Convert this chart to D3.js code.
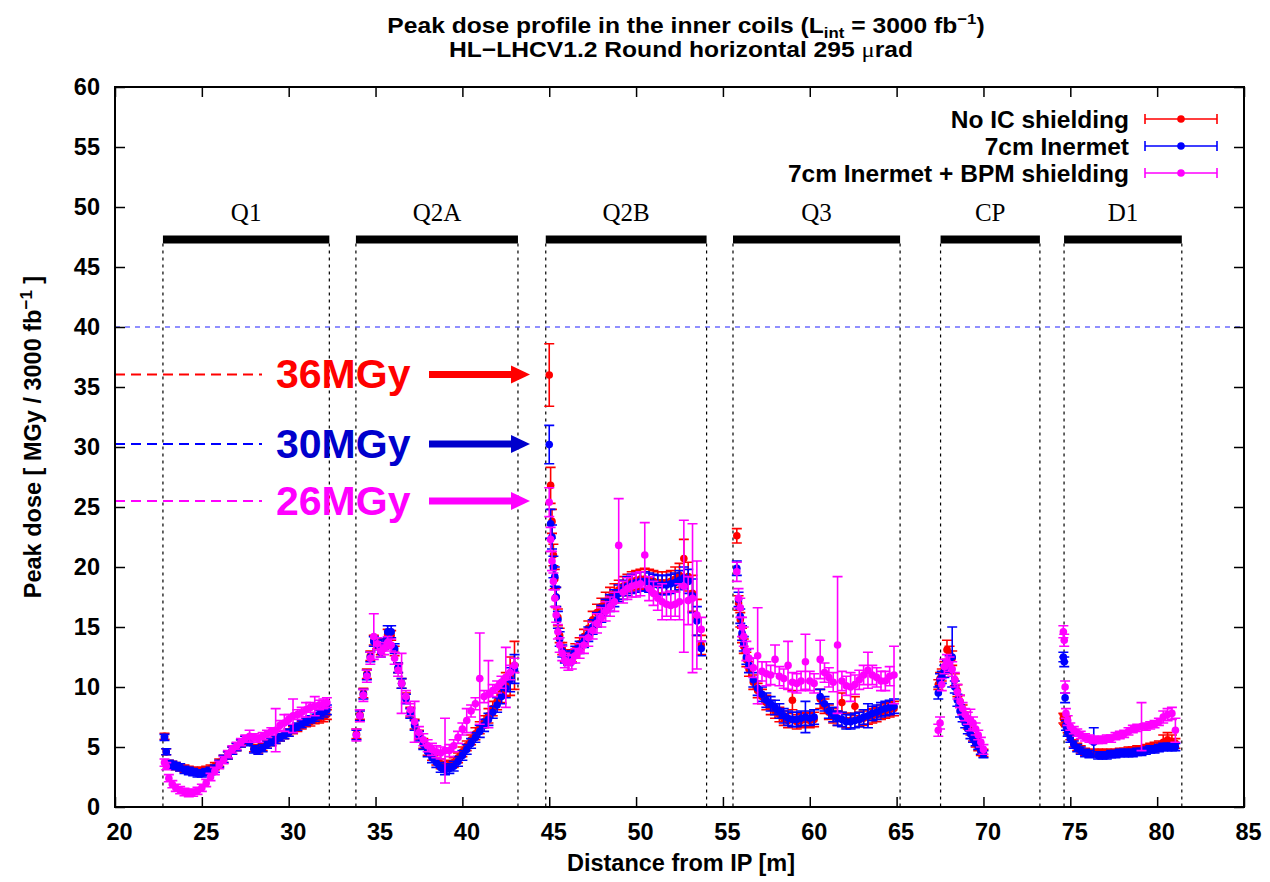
<!DOCTYPE html>
<html>
<head>
<meta charset="utf-8">
<script src="https://cdn.jsdelivr.net/npm/d3@7"></script>
<style>
  body { margin: 0; background: #fff; }
  svg { font-family: "Liberation Sans", Arial, sans-serif; }
</style>
</head>
<body>
<div id="chart"></div>
<script>
// positions along the beam line [m], grouped by magnet
const distance = [
  // Q1
  22.85, 22.95, 23.1, 23.3, 23.5, 23.75, 24.0, 24.25, 24.5, 24.75, 25.0, 25.25, 25.5, 25.75, 26.0, 26.25, 26.5, 26.75, 27.0, 27.25,
  27.5, 27.75, 28.0, 28.25, 28.5, 28.75, 29.0, 29.25, 29.5, 29.75, 30.0, 30.25, 30.5, 30.75, 31.0, 31.25, 31.5, 31.75, 32.0, 32.2,
  // Q2A
  33.9, 34.1, 34.3, 34.5, 34.7, 34.9, 35.1, 35.3, 35.5, 35.7, 35.9, 36.1, 36.3, 36.5, 36.75, 37.0, 37.25, 37.5, 37.75, 38.0,
  38.25, 38.5, 38.75, 39.0, 39.25, 39.5, 39.75, 40.0, 40.25, 40.5, 40.75, 41.0, 41.25, 41.5, 41.75, 42.0, 42.25, 42.5, 42.75, 43.0,
  // Q2B
  45.0, 45.08, 45.16, 45.24, 45.32, 45.4, 45.5, 45.6, 45.75, 45.9, 46.1, 46.3,
  46.5, 46.75, 47.0, 47.25, 47.5, 47.75, 48.0, 48.25, 48.5, 48.75, 49.0, 49.25, 49.5, 49.75, 50.0,
  50.25, 50.5, 50.75, 51.0, 51.25, 51.5, 51.75, 52.0, 52.25, 52.5, 52.75, 53.0, 53.25, 53.5, 53.75,
  // Q3
  55.8, 55.9, 56.0, 56.1, 56.2, 56.35, 56.5, 56.75, 57.0, 57.25, 57.5, 57.75, 58.0, 58.25, 58.5, 58.75, 59.0, 59.25, 59.5, 59.75,
  60.0, 60.25, 60.6, 60.85, 61.1, 61.35, 61.6, 61.85, 62.1, 62.35, 62.6, 62.85, 63.1, 63.35, 63.6, 63.85, 64.1, 64.35, 64.6, 64.85,
  // CP
  67.4, 67.5, 67.6, 67.75, 67.9, 68.05, 68.2, 68.35, 68.5, 68.65, 68.8, 68.95, 69.1, 69.25, 69.4, 69.55, 69.7, 69.85, 70.0,
  // D1
  74.6, 74.65, 74.7, 74.75, 74.85, 75.0, 75.2, 75.4, 75.6, 75.85, 76.1, 76.35, 76.6, 76.85, 77.1, 77.35, 77.6, 77.85, 78.1, 78.35,
  78.6, 78.85, 79.1, 79.35, 79.6, 79.85, 80.1, 80.35, 80.6, 80.85, 81.05
];

// No IC shielding [MGy / 3000 fb-1]
const doseNoShield = [
  5.9, 4.6, 3.6, 3.5, 3.4, 3.3, 3.2, 3.1, 3.0, 3.0, 3.0, 3.1, 3.2, 3.4, 3.7, 4.0, 4.3, 4.7, 5.0, 5.3,
  5.6, 5.5, 4.9, 4.8, 5.0, 5.2, 5.4, 5.6, 5.8, 6.0, 6.2, 6.4, 6.6, 6.8, 7.0, 7.1, 7.3, 7.4, 7.5, 7.7,
  6.1, 7.7, 9.5, 11.1, 12.6, 13.9, 13.6, 13.1, 13.6, 14.4, 14.3, 13.0, 11.6, 10.3, 9.1, 7.9, 6.9, 6.0, 5.3, 4.7,
  4.3, 3.9, 3.6, 3.4, 3.5, 3.7, 4.1, 4.6, 5.1, 5.6, 6.1, 6.6, 7.1, 7.6, 8.2, 8.8, 9.5, 10.2, 10.9, 11.8,
  36.0, 26.8, 23.8, 21.0, 19.0, 17.5, 15.8, 14.3, 13.2, 12.6, 12.4, 12.6,
  13.1, 13.6, 14.2, 14.9, 15.6, 16.2, 16.7, 17.1, 17.5, 17.8, 18.1, 18.4, 18.6, 18.8, 18.9,
  19.0, 19.0, 18.9, 18.8, 18.7, 18.7, 18.7, 18.8, 19.0, 19.3, 20.7, 19.2, 17.8, 15.8, 13.5,
  22.6, 17.0, 15.6, 14.3, 13.4, 12.3, 11.5, 10.4, 9.7, 9.2, 8.7, 8.3, 8.0, 7.7, 7.4, 7.2, 8.9, 7.1, 7.2, 7.3,
  7.2, 7.3, 9.0, 8.4, 7.9, 7.6, 7.4, 8.7, 7.2, 7.2, 8.4, 7.3, 7.4, 7.5, 7.6, 7.7, 7.9, 8.0, 8.1, 8.2,
  10.2, 10.7, 11.0, 11.6, 13.1, 12.8, 12.4, 10.6, 9.7, 8.8, 8.1, 7.5, 6.9, 6.4, 5.8, 5.3, 5.0, 4.6, 4.5,
  7.4, 7.3, 7.2, 7.1, 6.5, 5.9, 5.3, 5.0, 4.8, 4.6, 4.5, 4.5, 4.5, 4.5, 4.5, 4.5, 4.5, 4.6, 4.6, 4.7,
  4.7, 4.8, 4.8, 4.9, 5.0, 5.0, 5.1, 5.4, 5.6, 5.4, 5.3
];
const errNoShield = [
  0.25, 0.25, 0.3, 0.3, 0.3, 0.3, 0.3, 0.3, 0.3, 0.3, 0.3, 0.3, 0.3, 0.3, 0.3, 0.3, 0.3, 0.3, 0.3, 0.3,
  0.3, 0.3, 0.3, 0.3, 0.3, 0.3, 0.3, 0.3, 0.3, 0.3, 0.3, 0.3, 0.3, 0.3, 0.3, 0.35, 0.35, 0.4, 0.4, 0.4,
  0.4, 0.4, 0.4, 0.4, 0.4, 0.4, 0.4, 0.4, 0.4, 0.4, 0.4, 0.4, 0.4, 0.4, 0.4, 0.4, 0.4, 0.4, 0.4, 0.4,
  0.4, 0.4, 0.4, 0.4, 0.4, 0.4, 0.4, 0.4, 0.4, 0.4, 0.5, 0.5, 0.5, 0.6, 0.6, 0.7, 0.8, 1.0, 1.6, 2.0,
  2.6, 1.5, 1.0, 0.9, 0.8, 0.8, 0.7, 0.6, 0.5, 0.5, 0.5, 0.5,
  0.5, 0.5, 0.6, 0.6, 0.7, 0.7, 0.7, 0.8, 0.8, 0.8, 0.8, 0.8, 0.8, 0.8, 0.8,
  0.8, 0.9, 0.9, 0.9, 0.9, 0.9, 0.9, 0.9, 1.0, 1.0, 1.6, 1.2, 1.5, 1.5, 0.8,
  0.6, 0.6, 0.6, 0.6, 0.6, 0.6, 0.6, 0.6, 0.6, 0.6, 0.6, 0.6, 0.6, 0.6, 0.6, 0.6, 0.8, 0.6, 0.6, 0.6,
  0.6, 0.6, 0.8, 0.6, 0.6, 0.6, 0.6, 0.8, 0.6, 0.6, 0.8, 0.6, 0.6, 0.6, 0.6, 0.6, 0.6, 0.6, 0.6, 0.6,
  0.4, 0.5, 0.5, 0.5, 0.8, 0.6, 0.6, 0.5, 0.5, 0.5, 0.4, 0.4, 0.4, 0.4, 0.3, 0.3, 0.3, 0.3, 0.3,
  0.4, 0.4, 0.4, 0.4, 0.3, 0.3, 0.3, 0.3, 0.3, 0.3, 0.3, 0.3, 0.3, 0.3, 0.3, 0.3, 0.3, 0.3, 0.3, 0.3,
  0.3, 0.3, 0.3, 0.3, 0.3, 0.4, 0.4, 0.6, 0.6, 0.6, 0.4
];

// 7cm Inermet
const doseInermet = [
  5.8, 4.6, 3.6, 3.5, 3.4, 3.3, 3.1, 3.0, 2.9, 2.8, 2.8, 2.9, 3.0, 3.2, 3.6, 4.0, 4.3, 4.7, 5.0, 5.3,
  5.6, 5.4, 4.8, 4.7, 4.9, 5.2, 5.4, 5.6, 5.8, 6.0, 6.2, 6.5, 6.7, 6.9, 7.1, 7.3, 7.5, 7.7, 7.9, 8.1,
  6.0, 7.6, 9.4, 11.0, 12.5, 13.8, 13.5, 12.9, 13.6, 14.6, 14.6, 13.2, 11.6, 10.3, 9.0, 7.8, 6.8, 5.9, 5.2, 4.6,
  4.1, 3.7, 3.3, 3.1, 3.2, 3.4, 3.8, 4.3, 4.8, 5.3, 5.8, 6.3, 6.8, 7.3, 7.9, 8.5, 9.2, 9.9, 10.6, 11.5,
  30.2, 23.6, 22.5, 20.0, 19.2, 17.5, 15.6, 14.0, 13.0, 12.5, 12.3, 12.5,
  12.9, 13.3, 13.8, 14.4, 15.0, 15.6, 16.1, 16.6, 17.0, 17.4, 17.8, 18.1, 18.4, 18.6, 18.7,
  18.8, 18.8, 18.7, 18.6, 18.5, 18.5, 18.5, 18.6, 18.7, 18.9, 19.1, 18.8, 17.6, 15.5, 13.2,
  19.9, 17.3, 15.9, 14.5, 13.6, 12.5, 11.8, 10.6, 9.9, 9.4, 8.9, 8.6, 8.3, 8.0, 7.6, 7.4, 7.3, 7.3, 7.4, 7.5,
  7.4, 7.5, 9.2, 8.6, 8.0, 7.7, 7.4, 7.3, 7.1, 7.1, 7.2, 7.3, 7.5, 7.6, 7.8, 7.9, 8.1, 8.2, 8.3, 8.4,
  9.5, 10.6, 10.8, 11.3, 11.7, 12.1, 12.5, 10.0, 8.9, 8.0, 7.5, 7.0, 6.5, 6.1, 5.7, 5.4, 5.1, 4.7, 4.4,
  12.5, 12.1, 9.1, 6.8, 6.2, 5.7, 5.2, 4.9, 4.7, 4.5, 4.4, 5.4, 4.3, 4.3, 4.3, 4.4, 4.4, 4.5, 4.5, 4.5,
  4.5, 4.6, 4.6, 4.7, 4.8, 4.8, 4.9, 5.0, 5.0, 5.0, 5.0
];
const errInermet = [
  0.25, 0.25, 0.3, 0.3, 0.3, 0.3, 0.3, 0.3, 0.3, 0.3, 0.3, 0.3, 0.3, 0.3, 0.3, 0.3, 0.3, 0.3, 0.3, 0.3,
  0.3, 0.3, 0.3, 0.3, 0.3, 0.3, 0.3, 0.3, 0.3, 0.3, 0.3, 0.3, 0.3, 0.3, 0.3, 0.3, 0.35, 0.35, 0.4, 0.4,
  0.4, 0.4, 0.4, 0.4, 0.4, 0.4, 0.4, 0.4, 0.4, 0.5, 0.5, 0.4, 0.4, 0.4, 0.4, 0.4, 0.4, 0.4, 0.4, 0.4,
  0.4, 0.4, 0.4, 0.4, 0.4, 0.4, 0.4, 0.4, 0.4, 0.4, 0.4, 0.5, 0.5, 0.5, 0.5, 0.6, 0.6, 0.8, 1.0, 1.2,
  1.6, 1.2, 1.0, 0.9, 0.8, 0.8, 0.7, 0.6, 0.5, 0.5, 0.5, 0.5,
  0.5, 0.5, 0.5, 0.6, 0.6, 0.6, 0.7, 0.7, 0.7, 0.7, 0.7, 0.8, 0.8, 0.8, 0.8,
  0.8, 0.8, 0.8, 0.8, 0.8, 0.8, 0.8, 0.8, 0.8, 0.8, 0.9, 1.0, 1.4, 1.2, 0.6,
  0.6, 0.6, 0.6, 0.6, 0.6, 0.6, 0.6, 0.6, 0.6, 0.6, 0.6, 0.6, 0.6, 0.6, 0.6, 0.6, 0.6, 0.6, 0.6, 1.3,
  0.6, 0.6, 0.6, 0.6, 0.6, 0.6, 0.6, 0.6, 0.6, 0.6, 0.6, 0.6, 0.6, 1.0, 0.6, 0.6, 0.6, 0.6, 0.6, 0.6,
  0.5, 0.5, 0.5, 0.5, 0.5, 0.5, 2.5, 0.5, 0.5, 0.5, 0.4, 0.4, 0.4, 0.4, 0.3, 0.3, 0.3, 0.3, 0.3,
  0.4, 0.4, 0.4, 0.4, 0.3, 0.3, 0.3, 0.3, 0.3, 0.3, 0.3, 1.2, 0.3, 0.3, 0.3, 0.3, 0.3, 0.3, 0.3, 0.3,
  0.3, 0.3, 0.3, 0.3, 0.3, 0.3, 0.3, 0.3, 0.3, 0.3, 0.3
];

// 7cm Inermet + BPM shielding
const doseInermetBpm = [
  3.7, 3.4, 2.4, 1.9, 1.6, 1.4, 1.25, 1.15, 1.2, 1.35, 1.6, 2.0, 2.5, 3.0, 3.5, 3.9, 4.4, 4.8, 5.1, 5.4,
  5.7, 5.9, 5.8, 5.7, 5.9, 6.1, 6.3, 6.4, 6.8, 7.0, 7.3, 7.6, 7.7, 7.9, 8.1, 8.3, 8.4, 8.5, 8.6, 8.7,
  6.0, 7.6, 9.3, 10.9, 12.4, 14.2, 13.6, 13.0, 13.2, 13.7, 13.5, 12.4, 11.4, 10.3, 9.2, 8.1, 7.1, 6.2, 5.6, 5.1,
  4.8, 4.6, 4.5, 4.7, 4.7, 5.1, 5.8, 6.5, 7.2, 8.0, 8.6, 10.7, 9.2, 9.4, 9.7, 10.0, 10.4, 10.8, 11.2, 11.8,
  25.4, 22.3, 20.5, 18.8, 17.4, 16.0, 14.6, 13.5, 12.8, 12.2, 12.0, 12.1,
  12.6, 13.0, 13.5, 14.1, 14.7, 15.3, 15.8, 16.3, 16.7, 17.1, 21.8, 17.9, 18.2, 18.4, 18.5,
  18.6, 21.0, 18.2, 17.8, 17.4, 17.1, 16.9, 16.8, 16.9, 17.1, 18.4, 17.2, 17.4, 16.0, 14.8,
  19.6, 17.4, 16.6, 15.0, 14.2, 13.0, 12.4, 11.6, 12.6, 11.3, 11.1, 11.0, 12.3, 10.9, 10.7, 11.8, 10.4, 10.3, 10.5, 12.1,
  10.5, 10.3, 12.3, 11.2, 10.8, 10.4, 13.5, 10.5, 10.1, 10.0, 10.2, 10.6, 11.0, 11.4, 11.0, 10.8, 10.5, 10.5, 10.9, 11.0,
  6.4, 7.0, 10.2, 11.7, 12.1, 11.9, 11.5, 10.6, 9.6, 8.8, 8.2, 7.7, 7.4, 7.25, 7.0, 6.5, 6.0, 5.4, 4.8,
  14.6, 13.9, 10.0, 7.8, 7.2, 6.7, 6.4, 6.2, 6.0, 5.8, 5.7, 5.6, 5.6, 5.6, 5.7, 5.7, 5.9, 6.0, 6.1, 6.3,
  6.5, 6.6, 6.7, 6.7, 6.8, 6.9, 7.1, 7.5, 7.7, 7.8, 6.4
];
const errInermetBpm = [
  0.3, 0.3, 0.3, 0.3, 0.3, 0.3, 0.3, 0.3, 0.3, 0.3, 0.3, 0.3, 0.3, 0.3, 0.3, 0.3, 0.3, 0.3, 0.3, 0.3,
  0.3, 0.5, 0.3, 0.3, 0.3, 0.3, 0.3, 1.8, 0.4, 0.7, 0.4, 1.4, 0.4, 0.4, 0.6, 0.4, 0.8, 0.4, 0.4, 0.4,
  0.5, 0.5, 0.5, 0.5, 0.5, 1.9, 0.5, 0.5, 0.5, 0.5, 0.5, 0.5, 0.5, 2.5, 0.5, 0.5, 1.7, 0.5, 0.5, 0.5,
  0.5, 0.5, 0.5, 2.7, 0.5, 0.5, 0.5, 0.5, 1.0, 0.5, 0.5, 3.8, 0.5, 2.8, 0.5, 0.5, 0.5, 2.5, 0.6, 0.6,
  1.2, 1.0, 0.8, 0.7, 0.7, 0.6, 0.6, 0.6, 0.6, 0.6, 0.6, 0.6,
  0.6, 0.6, 0.7, 0.7, 0.7, 0.8, 0.8, 0.8, 0.8, 0.8, 3.9, 0.9, 0.9, 0.9, 1.0,
  1.0, 2.7, 1.0, 1.0, 1.0, 1.5, 1.0, 1.2, 1.0, 1.5, 5.5, 2.0, 6.2, 4.5, 1.0,
  0.8, 0.8, 0.8, 0.8, 0.8, 0.8, 0.8, 0.8, 4.0, 0.8, 1.0, 0.8, 1.2, 0.8, 0.8, 2.0, 0.8, 0.8, 0.8, 2.3,
  0.8, 0.8, 1.6, 0.8, 0.8, 0.8, 5.7, 0.8, 0.8, 1.2, 0.8, 0.8, 0.8, 1.5, 0.8, 0.8, 0.8, 0.8, 0.8, 2.4,
  0.5, 0.5, 0.5, 0.6, 0.6, 0.6, 0.6, 0.6, 0.6, 0.5, 0.5, 0.5, 0.5, 0.9, 0.5, 0.5, 0.4, 0.4, 0.4,
  0.5, 0.5, 0.5, 0.4, 0.4, 0.3, 0.3, 0.3, 0.3, 0.3, 0.3, 0.3, 0.3, 0.3, 0.3, 0.3, 0.3, 0.3, 0.3, 0.3,
  0.3, 0.3, 2.0, 0.3, 0.3, 0.3, 0.3, 0.5, 0.5, 0.5, 1.0
];

const seriesNames = ["No IC shielding", "7cm Inermet", "7cm Inermet + BPM shielding"];
const seriesColors = ["#ff0000", "#0000ff", "#ff00ff"];

// magnet layout [m]
const magnetNames = ["Q1", "Q2A", "Q2B", "Q3", "CP", "D1"];
const magnetStart = [22.76, 33.87, 44.8, 55.58, 67.53, 74.64];
const magnetEnd = [32.34, 43.2, 54.06, 65.2, 73.25, 81.42];

// peak annotations
const peakLabels = ["36MGy", "30MGy", "26MGy"];
const peakValues = [36.05, 30.25, 25.5];
const peakColors = ["#ff0000", "#0000cc", "#ff00ff"];
const peakLineColors = ["#ff0000", "#0000ff", "#ff00ff"];

const xTicks = d3.range(20, 86, 5);
const yTicks = d3.range(0, 61, 5);
const limitDose = 40;

const width = 1270;
const height = 882;

const svg = d3.select("#chart")
  .append("svg")
  .attr("width", width)
  .attr("height", height);

const x = d3.scaleLinear()
  .domain([20, 85])
  .range([115, 1244]);

const y = d3.scaleLinear()
  .domain([0, 60])
  .range([807, 87]);

// title (gnuplot output is a bit wider than Liberation Sans, so stretch it)
const title = svg.append("g")
  .attr("transform", "translate(686,33) scale(1.12,1)")
  .append("text")
  .attr("text-anchor", "middle")
  .attr("font-size", 22)
  .attr("font-weight", "bold");
title.append("tspan").text("Peak dose profile in the inner coils (L");
title.append("tspan").attr("dy", 5).attr("font-size", 15).text("int");
title.append("tspan").attr("dy", -5).text(" = 3000 fb");
title.append("tspan").attr("dy", -9).attr("font-size", 15).text("−1");
title.append("tspan").attr("dy", 9).text(")");

const title2 = svg.append("g")
  .attr("transform", "translate(681,57) scale(1.12,1)")
  .append("text")
  .attr("text-anchor", "middle")
  .attr("font-size", 22)
  .attr("font-weight", "bold");
title2.append("tspan").text("HL−LHCV1.2 Round horizontal 295 ");
title2.append("tspan").attr("font-family", "Liberation Serif, serif").attr("font-weight", "normal").text("μ");
title2.append("tspan").text("rad");

// limit line at 40 MGy
svg.append("line")
  .attr("x1", x(20)).attr("x2", x(85))
  .attr("y1", y(limitDose)).attr("y2", y(limitDose))
  .attr("stroke", "#2020ff")
  .attr("stroke-width", 1.2)
  .attr("stroke-dasharray", "5,5");

// magnets
const mag = svg.append("g").attr("class", "magnets");
magnetNames.forEach((name, i) => {
  const x0 = x(magnetStart[i]), x1 = x(magnetEnd[i]);
  mag.append("line")
    .attr("x1", x0).attr("x2", x1)
    .attr("y1", y(47.3)).attr("y2", y(47.3))
    .attr("stroke", "#000")
    .attr("stroke-width", 8);
  [x0, x1].forEach(px => {
    mag.append("line")
      .attr("x1", px).attr("x2", px)
      .attr("y1", y(47.3) + 4).attr("y2", y(0))
      .attr("stroke", "#000")
      .attr("stroke-width", 1.2)
      .attr("stroke-dasharray", "3,4");
  });
  mag.append("text")
    .attr("x", (x0 + x1) / 2)
    .attr("y", y(48.8))
    .attr("text-anchor", "middle")
    .attr("font-family", "Liberation Serif, 'DejaVu Serif', serif")
    .attr("font-size", 25)
    .text(name);
});

// peak annotations
peakLabels.forEach((label, i) => {
  const py = y(peakValues[i]);
  svg.append("line")
    .attr("x1", x(20)).attr("x2", 262)
    .attr("y1", py).attr("y2", py)
    .attr("stroke", peakLineColors[i])
    .attr("stroke-width", 2)
    .attr("stroke-dasharray", "10,6");
  svg.append("text")
    .attr("x", 276)
    .attr("y", py + 14)
    .attr("font-size", 41)
    .attr("font-weight", "bold")
    .attr("fill", peakColors[i])
    .text(label);
  svg.append("line")
    .attr("x1", 429).attr("x2", 513)
    .attr("y1", py).attr("y2", py)
    .attr("stroke", peakColors[i])
    .attr("stroke-width", 7);
  svg.append("path")
    .attr("d", `M511,${py - 9}L530,${py}L511,${py + 9}Z`)
    .attr("fill", peakColors[i]);
});

// data with error bars
const series = seriesNames.map((name, i) => ({
  name,
  color: seriesColors[i],
  dose: [doseNoShield, doseInermet, doseInermetBpm][i],
  err: [errNoShield, errInermet, errInermetBpm][i]
}));

const errPath = (px, v, e) => {
  const y0 = y(v - e), y1 = y(v + e);
  return `M${px},${y0}V${y1}M${px - 5},${y0}h10M${px - 5},${y1}h10`;
};

series.forEach(s => {
  const pts = distance.map((d, i) => ({ x: d, v: s.dose[i], e: s.err[i] }));
  const g = svg.append("g").attr("class", "series");
  g.selectAll("path")
    .data(pts)
    .enter().append("path")
    .attr("d", d => errPath(x(d.x), d.v, d.e))
    .attr("fill", "none")
    .attr("stroke", s.color)
    .attr("stroke-width", 1.6);
  g.selectAll("circle")
    .data(pts)
    .enter().append("circle")
    .attr("cx", d => x(d.x))
    .attr("cy", d => y(d.v))
    .attr("r", 3.8)
    .attr("fill", s.color);
});

// legend
const legend = svg.append("g").attr("class", "legend");
series.forEach((s, i) => {
  const ly = 119 + i * 27;
  legend.append("text")
    .attr("x", 1129)
    .attr("y", ly + 9)
    .attr("text-anchor", "end")
    .attr("font-size", 24.5)
    .attr("font-weight", "bold")
    .text(s.name);
  legend.append("path")
    .attr("d", `M1145,${ly}H1217M1145,${ly - 5}v10M1217,${ly - 5}v10`)
    .attr("fill", "none")
    .attr("stroke", s.color)
    .attr("stroke-width", 1.6);
  legend.append("circle")
    .attr("cx", 1181).attr("cy", ly).attr("r", 3.8)
    .attr("fill", s.color);
});

// axes with inward ticks on all sides
const styleAxis = g => {
  g.select(".domain").remove();
  g.selectAll(".tick line").attr("stroke", "#000").attr("stroke-width", 1.5);
  g.selectAll(".tick text")
    .attr("font-family", "Liberation Sans, Arial, sans-serif")
    .attr("font-size", 23.5)
    .attr("font-weight", "bold")
    .attr("fill", "#000");
};

svg.append("g")
  .attr("transform", `translate(0,${y(0)})`)
  .call(d3.axisBottom(x).tickValues(xTicks).tickSize(-10).tickPadding(16))
  .call(styleAxis)
  .selectAll(".tick text").attr("dx", 4);

svg.append("g")
  .attr("transform", `translate(0,${y(60)})`)
  .call(d3.axisTop(x).tickValues(xTicks).tickSize(-10).tickFormat(""))
  .call(styleAxis);

svg.append("g")
  .attr("transform", `translate(${x(20)},0)`)
  .call(d3.axisLeft(y).tickValues(yTicks).tickSize(-10).tickPadding(15))
  .call(styleAxis);

svg.append("g")
  .attr("transform", `translate(${x(85)},0)`)
  .call(d3.axisRight(y).tickValues(yTicks).tickSize(-10).tickFormat(""))
  .call(styleAxis);

svg.append("rect")
  .attr("x", x(20)).attr("y", y(60))
  .attr("width", x(85) - x(20))
  .attr("height", y(0) - y(60))
  .attr("fill", "none")
  .attr("stroke", "#000")
  .attr("stroke-width", 2);

// axis titles
svg.append("text")
  .attr("x", 681)
  .attr("y", 871)
  .attr("text-anchor", "middle")
  .attr("font-size", 23.5)
  .attr("font-weight", "bold")
  .text("Distance from IP [m]");

const yLabel = svg.append("text")
  .attr("transform", "translate(41,437) rotate(-90)")
  .attr("text-anchor", "middle")
  .attr("font-size", 23.5)
  .attr("font-weight", "bold");
yLabel.append("tspan").text("Peak dose [ MGy / 3000 fb");
yLabel.append("tspan").attr("dy", -9).attr("font-size", 17).text("−1");
yLabel.append("tspan").attr("dy", 9).text(" ]");
</script>
</body>
</html>
